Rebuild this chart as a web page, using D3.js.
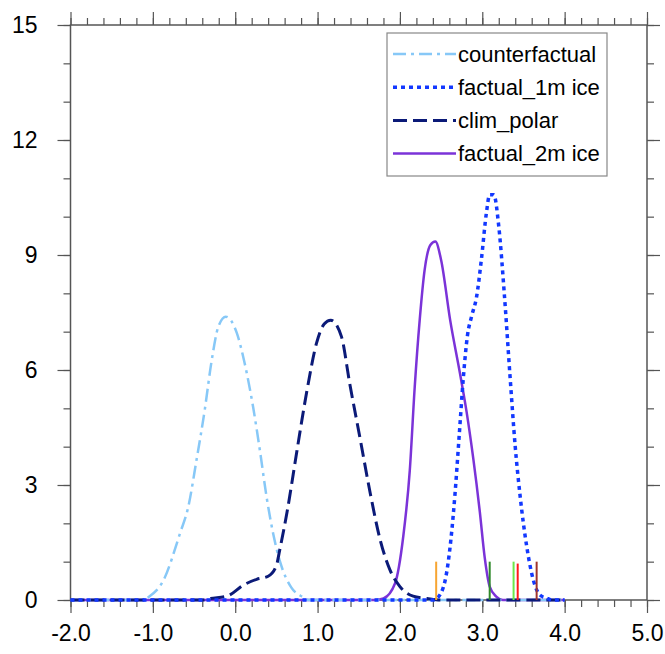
<!DOCTYPE html>
<html>
  <head>
    <meta charset="utf-8">
    <script type="text/javascript" src="https://cdn.jsdelivr.net/npm/d3@7"></script>
    <style>
      body { margin: 0; background: #fff; }
      text { font-family: "Liberation Sans", Arial, sans-serif; fill: #000; }
    </style>
  </head>
  <body>
    <script type="text/javascript">
    // pdf curves
    var cfX = [-2.0, -1.1, -1.075, -0.87, -0.67, -0.57, -0.47, -0.37, -0.285, -0.205, -0.115, 0.02, 0.11, 0.22, 0.30, 0.38, 0.46, 0.55, 0.68, 0.81, 0.9, 4.0];
    var cfY = [0, 0, 0.04, 0.52, 1.74, 2.43, 3.65, 4.96, 6.26, 7.13, 7.39, 6.96, 6.22, 5.0, 3.9, 2.7, 1.74, 0.96, 0.33, 0.09, 0, 0];

    var f1X = [-2.0, 2.4, 2.47, 2.57, 2.62, 2.67, 2.72, 2.77, 2.82, 2.87, 2.93, 2.99, 3.05, 3.09, 3.14, 3.2, 3.27, 3.34, 3.4, 3.46, 3.54, 3.62, 3.7, 3.78, 3.85, 4.0];
    var f1Y = [0, 0, 0.09, 0.75, 1.6, 2.8, 4.3, 5.8, 6.9, 7.4, 7.9, 8.9, 10.1, 10.57, 10.57, 9.75, 7.91, 5.74, 4.0, 2.70, 1.39, 0.52, 0.13, 0.05, 0, 0];

    var cpX = [-2.0, -0.4, -0.3, -0.1, 0.1, 0.26, 0.4, 0.5, 0.54, 0.63, 0.75, 0.87, 0.99, 1.08, 1.16, 1.29, 1.39, 1.52, 1.64, 1.76, 1.88, 2.0, 2.16, 2.33, 2.5, 4.0];
    var cpY = [0, 0, 0.04, 0.1, 0.39, 0.54, 0.62, 0.9, 1.3, 2.3, 3.9, 5.45, 6.72, 7.2, 7.3, 6.87, 5.65, 4.17, 2.78, 1.57, 0.78, 0.35, 0.1, 0.04, 0, 0];

    var f2X = [-2.0, 1.7, 1.8, 1.94, 2.04, 2.12, 2.18, 2.24, 2.3, 2.37, 2.43, 2.5, 2.61, 2.73, 2.81, 2.89, 2.97, 3.03, 3.09, 3.17, 3.25, 4.0];
    var f2Y = [0, 0, 0.04, 0.43, 1.65, 3.39, 5.57, 7.3, 8.61, 9.26, 9.35, 8.87, 7.3, 5.9, 4.9, 3.7, 2.3, 1.1, 0.35, 0.09, 0, 0];

    var seriesNames = ["counterfactual", "factual_1m ice", "clim_polar", "factual_2m ice"];
    var seriesColors = ["#87c8f7", "#1238ff", "#0b1a78", "#7b33d8"];
    var seriesDash = ["13,5,3,5", "4,4", "14,6", null];
    var seriesWidth = [2.5, 3.5, 3, 2.5];

    // short vertical markers at the bottom
    var markX = [2.44, 3.09, 3.38, 3.43, 3.66];
    var markH = [1.0, 1.0, 1.0, 0.95, 1.0];
    var markColors = ["#f7a532", "#2f8a2a", "#6be84a", "#ff1a1a", "#a0342e"];

    var xMajor = [-2, -1, 0, 1, 2, 3, 4, 5];
    var yMajor = [0, 3, 6, 9, 12, 15];

    var W = 665, H = 654;
    var padL = 70.5, padR = 647, padT = 25, padB = 600;

    var x = d3.scaleLinear().domain([-2, 5]).range([padL, padR]);
    var y = d3.scaleLinear().domain([0, 15]).range([padB, padT]);

    var svg = d3.select('body').append('svg')
                .attr('width', W)
                .attr('height', H);

    var axisColor = "#555";

    function styleAxis(g) {
        g.select('.domain').remove();
        g.selectAll('line').attr('stroke', axisColor).attr('stroke-width', 1.2);
        g.selectAll('text').attr('font-size', 23).attr('fill', '#000')
            .style('font-family', '"Liberation Sans", Arial, sans-serif');
    }

    var xMinor = d3.range(-2, 5.001, 0.2);
    var yMinor = d3.range(0, 15.001, 1);
    var fmtX = function(d) { return d3.format('.1f')(d).replace('\u2212', '-'); };

    // minor ticks on all sides
    svg.append('g').attr('transform', 'translate(0,' + padB + ')')
        .call(d3.axisBottom(x).tickValues(xMinor).tickSize(7).tickFormat('')).call(styleAxis);
    svg.append('g').attr('transform', 'translate(0,' + padT + ')')
        .call(d3.axisTop(x).tickValues(xMinor).tickSize(7).tickFormat('')).call(styleAxis);
    svg.append('g').attr('transform', 'translate(' + padL + ',0)')
        .call(d3.axisLeft(y).tickValues(yMinor).tickSize(7).tickFormat('')).call(styleAxis);
    svg.append('g').attr('transform', 'translate(' + padR + ',0)')
        .call(d3.axisRight(y).tickValues(yMinor).tickSize(7).tickFormat('')).call(styleAxis);

    // major ticks
    svg.append('g').attr('transform', 'translate(0,' + padB + ')')
        .call(d3.axisBottom(x).tickValues(xMajor).tickSize(13).tickPadding(12).tickFormat(fmtX))
        .call(styleAxis);
    svg.append('g').attr('transform', 'translate(0,' + padT + ')')
        .call(d3.axisTop(x).tickValues(xMajor).tickSize(13).tickFormat('')).call(styleAxis);
    svg.append('g').attr('transform', 'translate(' + padL + ',0)')
        .call(d3.axisLeft(y).tickValues(yMajor).tickSize(13).tickPadding(20).tickFormat(d3.format('d')))
        .call(styleAxis);
    svg.append('g').attr('transform', 'translate(' + padR + ',0)')
        .call(d3.axisRight(y).tickValues(yMajor).tickSize(13).tickFormat('')).call(styleAxis);

    // frame
    svg.append('rect')
        .attr('x', padL).attr('y', padT)
        .attr('width', padR - padL).attr('height', padB - padT)
        .attr('fill', 'none').attr('stroke', axisColor).attr('stroke-width', 1.5);

    var xs = [cfX, f1X, cpX, f2X];
    var ys = [cfY, f1Y, cpY, f2Y];

    var line = d3.line()
        .x(function(d) { return x(d[0]); })
        .y(function(d) { return y(d[1]); })
        .curve(d3.curveMonotoneX);

    // draw order: purple first, dashed ones on top
    [3, 0, 2, 1].forEach(function(i) {
        var pts = xs[i].map(function(v, j) { return [v, ys[i][j]]; });
        svg.append('path')
            .datum(pts)
            .attr('d', line)
            .attr('fill', 'none')
            .attr('stroke', seriesColors[i])
            .attr('stroke-width', seriesWidth[i])
            .attr('stroke-dasharray', seriesDash[i])
            .attr('stroke-linejoin', 'round');
    });

    svg.selectAll('line.mark')
        .data(markX)
        .enter()
        .append('line')
        .attr('class', 'mark')
        .attr('x1', function(d) { return x(d); })
        .attr('x2', function(d) { return x(d); })
        .attr('y1', y(0))
        .attr('y2', function(d, i) { return y(markH[i]); })
        .attr('stroke', function(d, i) { return markColors[i]; })
        .attr('stroke-width', 2);

    // legend
    var lg = svg.append('g');
    lg.append('rect')
        .attr('x', 387).attr('y', 33)
        .attr('width', 220).attr('height', 143)
        .attr('fill', '#fff').attr('stroke', '#888').attr('stroke-width', 1.2);

    seriesNames.forEach(function(name, i) {
        var ly = 54 + i * 33.2;
        lg.append('line')
            .attr('x1', 393).attr('x2', 456)
            .attr('y1', ly).attr('y2', ly)
            .attr('stroke', seriesColors[i])
            .attr('stroke-width', seriesWidth[i])
            .attr('stroke-dasharray', seriesDash[i]);
        lg.append('text')
            .attr('x', 458).attr('y', ly)
            .attr('dy', '0.35em')
            .attr('font-size', 22)
            .text(name);
    });
    </script>
  </body>
</html>
